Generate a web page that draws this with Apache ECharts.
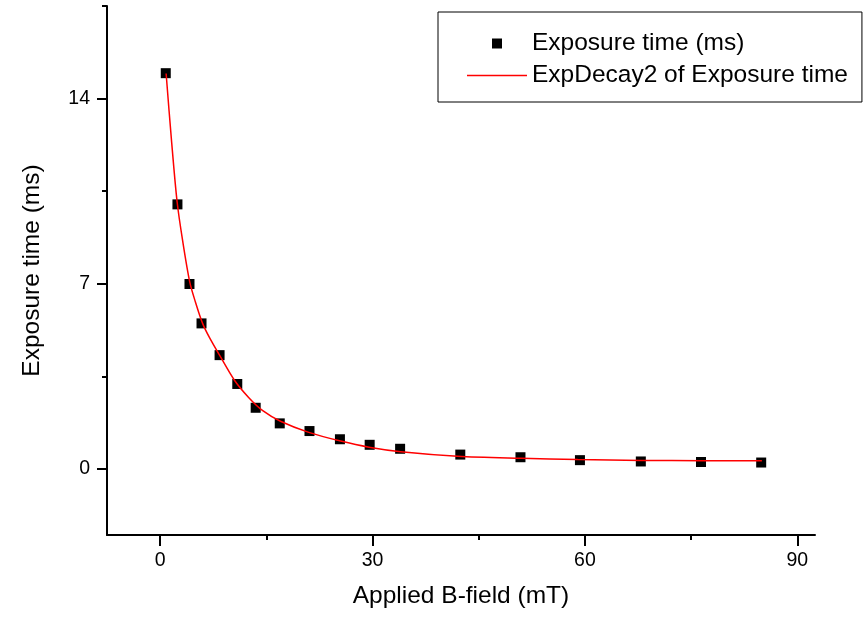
<!DOCTYPE html>
<html>
<head>
<meta charset="utf-8">
<script src="https://cdn.jsdelivr.net/npm/echarts@6/dist/echarts.min.js"></script>
<style>
    html, body { margin: 0; padding: 0; background: #fff; }
    #chart { width: 865px; height: 617px; }
</style>
</head>
<body>
<div id="chart"></div>
<script>
// 测量点
var fieldX = [0.8, 2.45, 4.15, 5.85, 8.4, 10.9, 13.5, 16.9, 21.1, 25.4, 29.6, 33.9, 42.4, 50.9, 59.3, 67.9, 76.4, 84.9];
var exposureMs = [14.96, 10.0, 6.99, 5.50, 4.30, 3.21, 2.31, 1.72, 1.43, 1.12, 0.91, 0.76, 0.54, 0.44, 0.33, 0.28, 0.26, 0.24];
// 拟合曲线
var fitX = [0.85, 1.6, 2.4, 3.2, 4.2, 5.0, 6.0, 7.0, 8.5, 10.5, 12.5, 14.5, 17, 21, 25.5, 29.5, 34, 42, 51, 59, 68, 76.5, 85];
var fitY = [14.95, 12.45, 10.1, 8.6, 7.05, 6.3, 5.5, 4.95, 4.25, 3.35, 2.7, 2.2, 1.8, 1.38, 1.05, 0.82, 0.65, 0.48, 0.40, 0.35, 0.32, 0.31, 0.31];
// 刻度
var xTicks = [0, 30, 60, 90];
var xMinorTicks = [15, 45, 75];
var yTicks = [0, 7, 14];
var yMinorTicks = [3.5, 10.5, 17.5];

var font = "'Liberation Sans', Arial, sans-serif";

var pointData = fieldX.map(function (x, i) { return [x, exposureMs[i]]; });
var fitData = fitX.map(function (x, i) { return [x, fitY[i]]; });

var chart = echarts.init(document.getElementById('chart'));

var axisLine = { onZero: false, lineStyle: { color: '#000', width: 2 } };

var option = {
    animation: false,
    backgroundColor: '#fff',
    textStyle: { fontFamily: font, color: '#000' },
    grid: { left: 107, right: 50, top: 6, bottom: 82 },
    legend: {
        left: 438,
        top: 12,
        orient: 'vertical',
        padding: [19, 14, 14, 29],
        borderColor: '#000',
        borderWidth: 1,
        itemWidth: 60,
        itemHeight: 10,
        itemGap: 7,
        textStyle: { fontFamily: font, fontSize: 24.5, color: '#000', lineHeight: 25 },
        data: [
            { name: 'Exposure time (ms)', icon: 'path://M0,0H10V10H0Z' },
            { name: 'ExpDecay2 of Exposure time', icon: 'path://M0,0H56V1.5H0Z' }
        ]
    },
    xAxis: [{
        type: 'value',
        min: -7.5,
        max: 92.5,
        name: 'Applied B-field (mT)',
        nameLocation: 'middle',
        nameGap: 49,
        nameTextStyle: { fontFamily: font, fontSize: 24.5, color: '#000' },
        axisLine: axisLine,
        splitLine: { show: false },
        axisTick: { customValues: xTicks, length: 11, lineStyle: { color: '#000', width: 2 } },
        axisLabel: { customValues: xTicks, margin: 16, fontFamily: font, fontSize: 19.5, color: '#000' }
    }, {
        // 次刻度
        type: 'value',
        min: -7.5,
        max: 92.5,
        position: 'bottom',
        axisLine: { show: false, onZero: false },
        splitLine: { show: false },
        axisTick: { customValues: xMinorTicks, length: 5, lineStyle: { color: '#000', width: 2 } },
        axisLabel: { show: false }
    }],
    yAxis: [{
        type: 'value',
        min: -2.5,
        max: 17.5,
        name: 'Exposure time (ms)',
        nameLocation: 'middle',
        nameGap: 62,
        nameTextStyle: { fontFamily: font, fontSize: 24.5, color: '#000' },
        axisLine: axisLine,
        splitLine: { show: false },
        axisTick: { customValues: yTicks, length: 10, lineStyle: { color: '#000', width: 2 } },
        axisLabel: { customValues: yTicks, margin: 17, fontFamily: font, fontSize: 19.5, color: '#000' }
    }, {
        type: 'value',
        min: -2.5,
        max: 17.5,
        position: 'left',
        axisLine: { show: false, onZero: false },
        splitLine: { show: false },
        axisTick: { customValues: yMinorTicks, length: 5, lineStyle: { color: '#000', width: 2 } },
        axisLabel: { show: false }
    }],
    series: [{
        name: 'Exposure time (ms)',
        type: 'scatter',
        symbol: 'rect',
        symbolSize: 10,
        itemStyle: { color: '#000', opacity: 1 },
        data: pointData
    }, {
        name: 'ExpDecay2 of Exposure time',
        type: 'line',
        symbol: 'none',
        smooth: 0.3,
        lineStyle: { color: '#ff0000', width: 1.5 },
        itemStyle: { color: '#ff0000' },
        z: 3,
        data: fitData
    }]
};

chart.setOption(option);

window.addEventListener('resize', function () {
    chart.resize();
});
</script>
</body>
</html>
